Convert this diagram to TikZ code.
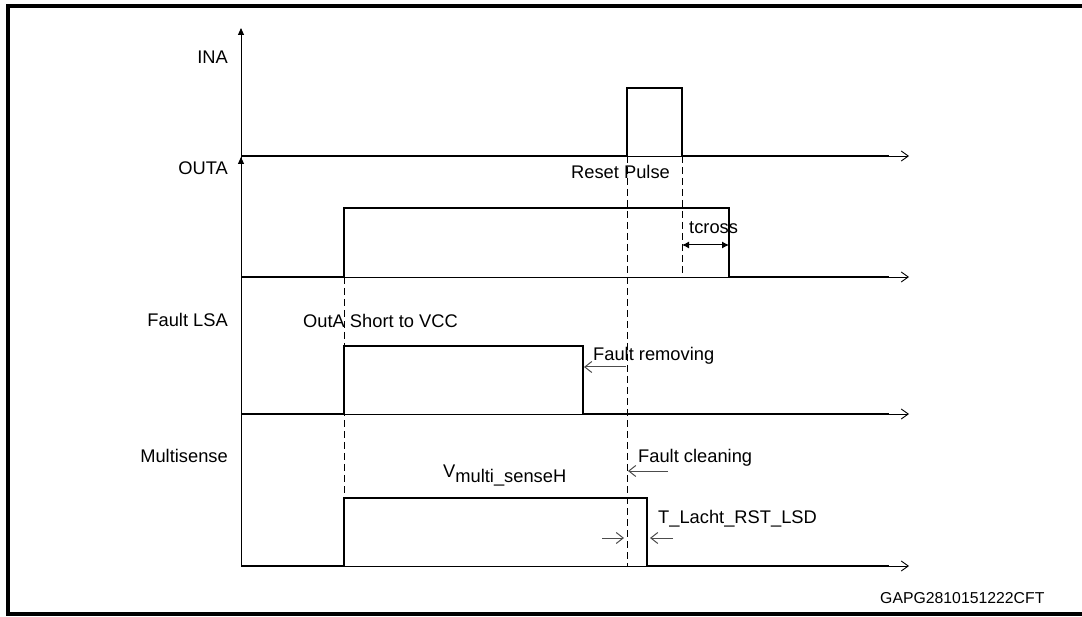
\documentclass[tikz,border=0pt]{standalone}
\usepackage{fontspec}
\setmainfont{Liberation Sans}
\usetikzlibrary{arrows.meta}
\tikzset{
  frameline/.style={line width=3.4pt},
  axisline/.style={line width=0.9pt, -{Straight Barb[length=7pt,width=10pt]}},
  signal/.style={line width=2.8pt, line join=miter},
  guide/.style={line width=0.9pt, dash pattern=on 7pt off 4pt},
  marker/.style={line width=1pt, draw=black!70, -{Straight Barb[length=7pt,width=11pt]}},
  lbl/.style={font=\fontsize{18.3}{20}\selectfont, inner sep=0pt},
  tag/.style={font=\fontsize{15.8}{18}\selectfont, inner sep=0pt},
}

\begin{document}
\begin{tikzpicture}[x=1pt,y=-1pt]
  \useasboundingbox (0,0) rectangle (1082,617);
  %
  % frame (open on the right, it runs off the page)
  \draw[frameline] (1082,6) -- (8,6) -- (8,614) -- (1082,614);
  %
  % vertical axis, with the second arrow head for OUTA
  \coordinate (origin) at (241,566);
  \coordinate (inatop) at (241,28);
  \coordinate (outatop) at (241,157);
  \draw[line width=0.9pt, -{Triangle[length=7pt,width=6pt]}] (origin) -- (inatop);
  \draw[line width=0.9pt, -{Triangle[length=7pt,width=6pt]}] (241,200) -- (outatop);
  %
  % time axes
  \foreach \y in {156,277,414,566}
  {
    \draw[axisline] (241,\y) -- (909,\y);
  }
  %
  % signals: low level / high level / rising edge / falling edge
  \foreach \lo/\hi/\up/\dn in {156/88/627/682, 277/208/344/729,
                               414/346/344/583, 566/498/344/647}
  {
    \draw[signal] (241,\lo) -- (\up,\lo) -- (\up,\hi) -- (\dn,\hi)
                  -- (\dn,\lo) -- (889,\lo);
  }
  %
  % dashed guides
  \coordinate (shorttop) at (344,277);
  \coordinate (shortbot) at (344,566);
  \coordinate (resettop) at (627,156);
  \coordinate (resetbot) at (627,566);
  \coordinate (endtop)   at (682,156);
  \coordinate (endbot)   at (682,277);
  \draw[guide] (shorttop) -- (shortbot);
  \draw[guide] (resettop) -- (resetbot);
  \draw[guide] (endtop) -- (endbot);
  %
  % signal names
  \node[lbl, anchor=base east] (ina)   at (228,64)  {INA};
  \node[lbl, anchor=base east] (outa)  at (228,175) {OUTA};
  \node[lbl, anchor=base east] (fault) at (228,327) {Fault LSA};
  \node[lbl, anchor=base east] (multi) at (228,463) {Multisense};
  %
  % event labels
  \node[lbl, anchor=base west] (reset)   at (571,179) {Reset Pulse};
  \node[lbl, anchor=base west] (tcross)  at (689,234) {tcross};
  \node[lbl, anchor=base west] (short)   at (303,328) {OutA Short to VCC};
  \node[lbl, anchor=base west] (removing) at (593,361) {Fault removing};
  \node[lbl, anchor=base west] (cleaning) at (638,462) {Fault cleaning};
  \node[lbl, anchor=base west] (vmulti)  at (443,478)
       {V\raisebox{-5pt}{multi\_senseH}};
  \node[lbl, anchor=base west] (tlatch)  at (658,523) {T\_Lacht\_RST\_LSD};
  \node[tag, anchor=base west] (code)    at (880,603) {GAPG2810151222CFT};
  %
  % time marks
  \coordinate (crossa) at (682,245);
  \coordinate (crossb) at (729,245);
  \draw[line width=1pt, {Latex[length=7pt,width=7pt]}-{Latex[length=7pt,width=7pt]}]
       (crossa) -- (crossb);
  \coordinate (rema) at (626,367);
  \coordinate (remb) at (584,367);
  \draw[marker] (rema) -- (remb);
  \coordinate (clea) at (668,471);
  \coordinate (cleb) at (628,471);
  \draw[marker] (clea) -- (cleb);
  \coordinate (lata) at (602,538);
  \coordinate (latb) at (624,538);
  \draw[marker] (lata) -- (latb);
  \coordinate (latc) at (673,538);
  \coordinate (latd) at (650,538);
  \draw[marker] (latc) -- (latd);
\end{tikzpicture}
\end{document}
